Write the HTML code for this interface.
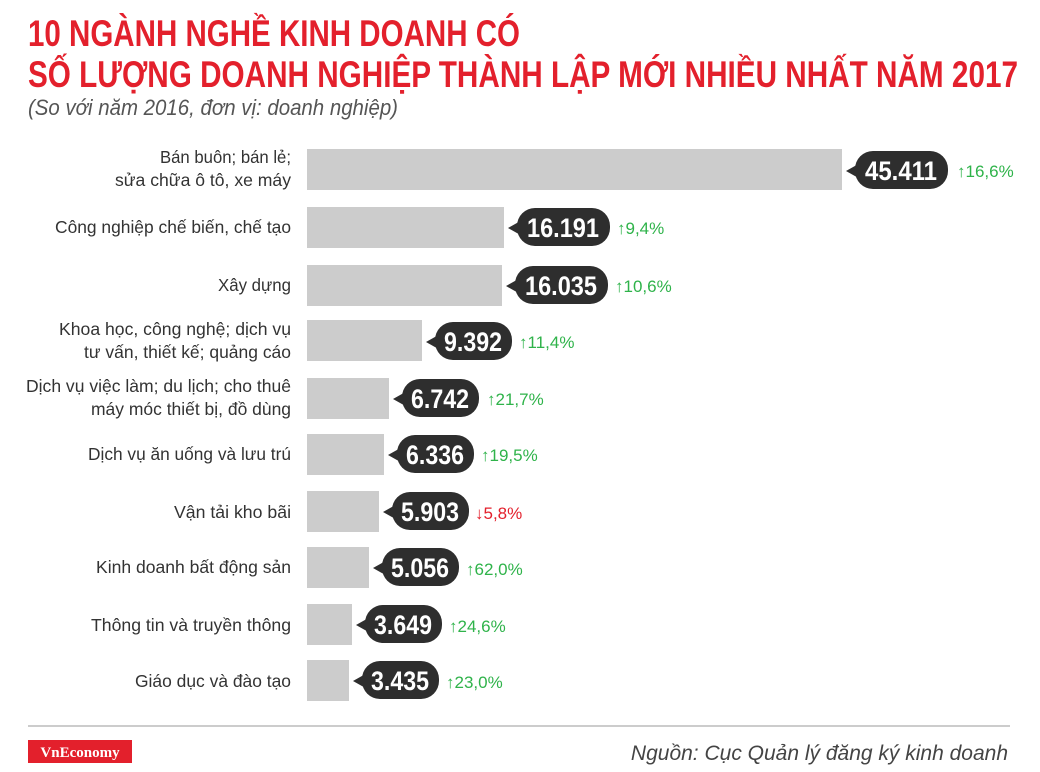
<!DOCTYPE html>
<html><head><meta charset="utf-8"><style>
html,body{margin:0;padding:0;background:#fff;}
svg{display:block;}
.t{font-family:"Liberation Sans Narrow","Liberation Sans",sans-serif;font-weight:bold;fill:#e3202c;font-size:37px;}
.sub{font-family:"Liberation Sans Narrow","Liberation Sans",sans-serif;font-style:italic;fill:#555;font-size:22px;}
.lb{font-family:"Liberation Sans","Liberation Sans Narrow",sans-serif;fill:#333;font-size:17.5px;text-anchor:end;}
.v{font-family:"Liberation Sans Narrow","Liberation Sans",sans-serif;font-weight:bold;fill:#fff;font-size:27px;text-anchor:middle;}
.c{font-family:"Liberation Sans Narrow","Liberation Sans",sans-serif;font-size:17px;}
.up{fill:#2fb34a;} .dn{fill:#e3202c;}
</style></head><body>
<svg width="1040" height="772" viewBox="0 0 1040 772">
<text class="t" x="28" y="46" textLength="492" lengthAdjust="spacingAndGlyphs">10 NGÀNH NGHỀ KINH DOANH CÓ</text>
<text class="t" x="28" y="87" textLength="990" lengthAdjust="spacingAndGlyphs">SỐ LƯỢNG DOANH NGHIỆP THÀNH LẬP MỚI NHIỀU NHẤT NĂM 2017</text>
<text class="sub" x="28" y="115" textLength="370" lengthAdjust="spacingAndGlyphs">(So với năm 2016, đơn vị: doanh nghiệp)</text>

<g fill="#cccccc">
<rect x="307" y="149" width="535" height="41"/>
<rect x="307" y="207" width="197" height="41"/>
<rect x="307" y="265" width="195" height="41"/>
<rect x="307" y="320" width="115" height="41"/>
<rect x="307" y="378" width="82" height="41"/>
<rect x="307" y="434" width="77" height="41"/>
<rect x="307" y="491" width="72" height="41"/>
<rect x="307" y="547" width="62" height="41"/>
<rect x="307" y="604" width="45" height="41"/>
<rect x="307" y="660" width="42" height="41"/>
</g>

<g class="lb">
<text x="291" y="163" textLength="131" lengthAdjust="spacingAndGlyphs">Bán buôn; bán lẻ;</text>
<text x="291" y="186" textLength="176" lengthAdjust="spacingAndGlyphs">sửa chữa ô tô, xe máy</text>
<text x="291" y="233" textLength="236" lengthAdjust="spacingAndGlyphs">Công nghiệp chế biến, chế tạo</text>
<text x="291" y="291" textLength="73" lengthAdjust="spacingAndGlyphs">Xây dựng</text>
<text x="291" y="335" textLength="232" lengthAdjust="spacingAndGlyphs">Khoa học, công nghệ; dịch vụ</text>
<text x="291" y="358" textLength="207" lengthAdjust="spacingAndGlyphs">tư vấn, thiết kế; quảng cáo</text>
<text x="291" y="392" textLength="265" lengthAdjust="spacingAndGlyphs">Dịch vụ việc làm; du lịch; cho thuê</text>
<text x="291" y="415" textLength="200" lengthAdjust="spacingAndGlyphs">máy móc thiết bị, đồ dùng</text>
<text x="291" y="460" textLength="203" lengthAdjust="spacingAndGlyphs">Dịch vụ ăn uống và lưu trú</text>
<text x="291" y="518" textLength="117" lengthAdjust="spacingAndGlyphs">Vận tải kho bãi</text>
<text x="291" y="573" textLength="195" lengthAdjust="spacingAndGlyphs">Kinh doanh bất động sản</text>
<text x="291" y="631" textLength="200" lengthAdjust="spacingAndGlyphs">Thông tin và truyền thông</text>
<text x="291" y="687" textLength="156" lengthAdjust="spacingAndGlyphs">Giáo dục và đào tạo</text>
</g>

<g fill="#2e2e2e">
<rect x="855" y="151" width="93" height="38" rx="18"/><polygon points="846,171 862,162 862,180"/>
<rect x="517" y="208" width="93" height="38" rx="18"/><polygon points="508,228 524,219 524,237"/>
<rect x="515" y="266" width="93" height="38" rx="18"/><polygon points="506,286 522,277 522,295"/>
<rect x="435" y="322" width="77" height="38" rx="18"/><polygon points="426,342 442,333 442,351"/>
<rect x="402" y="379" width="77" height="38" rx="18"/><polygon points="393,399 409,390 409,408"/>
<rect x="397" y="435" width="77" height="38" rx="18"/><polygon points="388,455 404,446 404,464"/>
<rect x="392" y="492" width="77" height="38" rx="18"/><polygon points="383,512 399,503 399,521"/>
<rect x="382" y="548" width="77" height="38" rx="18"/><polygon points="373,568 389,559 389,577"/>
<rect x="365" y="605" width="77" height="38" rx="18"/><polygon points="356,625 372,616 372,634"/>
<rect x="362" y="661" width="77" height="38" rx="18"/><polygon points="353,681 369,672 369,690"/>
</g>
<g class="v">
<text x="901" y="180" textLength="72" lengthAdjust="spacingAndGlyphs">45.411</text>
<text x="563" y="237" textLength="72" lengthAdjust="spacingAndGlyphs">16.191</text>
<text x="561" y="295" textLength="72" lengthAdjust="spacingAndGlyphs">16.035</text>
<text x="473" y="351" textLength="58" lengthAdjust="spacingAndGlyphs">9.392</text>
<text x="440" y="408" textLength="58" lengthAdjust="spacingAndGlyphs">6.742</text>
<text x="435" y="464" textLength="58" lengthAdjust="spacingAndGlyphs">6.336</text>
<text x="430" y="521" textLength="58" lengthAdjust="spacingAndGlyphs">5.903</text>
<text x="420" y="577" textLength="58" lengthAdjust="spacingAndGlyphs">5.056</text>
<text x="403" y="634" textLength="58" lengthAdjust="spacingAndGlyphs">3.649</text>
<text x="400" y="690" textLength="58" lengthAdjust="spacingAndGlyphs">3.435</text>
</g>
<g class="c">
<text class="up" x="957" y="177">↑16,6%</text>
<text class="up" x="617" y="234">↑9,4%</text>
<text class="up" x="615" y="292">↑10,6%</text>
<text class="up" x="519" y="348">↑11,4%</text>
<text class="up" x="487" y="405">↑21,7%</text>
<text class="up" x="481" y="461">↑19,5%</text>
<text class="dn" x="475" y="519">↓5,8%</text>
<text class="up" x="466" y="575">↑62,0%</text>
<text class="up" x="449" y="632">↑24,6%</text>
<text class="up" x="446" y="688">↑23,0%</text>
</g>

<rect x="28" y="725" width="982" height="2" fill="#cccccc"/>
<rect x="28" y="740" width="104" height="23" fill="#e3202c"/>
<text x="80" y="757" text-anchor="middle" style="font-family:'Liberation Serif',serif;font-weight:bold;font-size:15px;fill:#fff;">VnEconomy</text>
<text x="1008" y="760" text-anchor="end" class="sub" style="font-size:21px;fill:#444;">Nguồn: Cục Quản lý đăng ký kinh doanh</text>
</svg>
</body></html>
